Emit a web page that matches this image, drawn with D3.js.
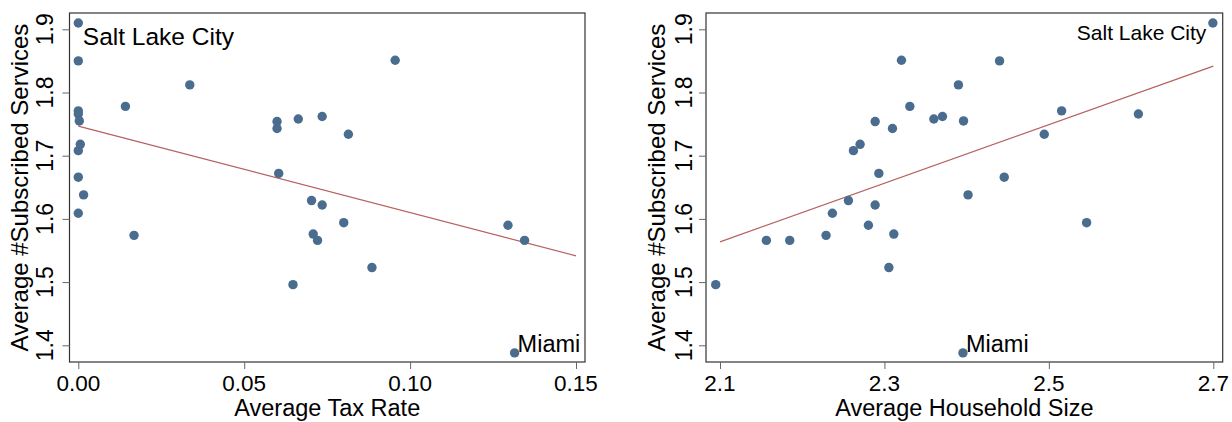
<!DOCTYPE html>
<html>
<head>
<meta charset="utf-8">
<script src="https://cdn.jsdelivr.net/npm/d3@7"></script>
<style>
  html, body { margin: 0; padding: 0; background: #fff; }
  svg { display: block; }
  text { font-family: "Liberation Sans", Arial, Helvetica, sans-serif; fill: #000; }
</style>
</head>
<body>
<svg id="chart" width="1232" height="422"></svg>
<script>
// ---- data (one entry per city) ----
const cities = ["Salt Lake City","c2","c3","c4","c5","c6","c7","c8","c9","c10",
  "c11","c12","c13","c14","c15","c16","c17","c18","c19","c20",
  "c21","c22","c23","c24","c25","c26","c27","c28","c29","Miami"];
const subscribed = [1.910, 1.850, 1.851, 1.812, 1.778, 1.771, 1.766, 1.762, 1.758, 1.755,
  1.754, 1.743, 1.734, 1.718, 1.708, 1.672, 1.666, 1.638, 1.629, 1.622,
  1.609, 1.594, 1.590, 1.576, 1.574, 1.566, 1.566, 1.523, 1.496, 1.388];
const taxRate = [0.0000, 0.0000, 0.0955, 0.0336, 0.0142, 0.0000, 0.0000, 0.0735, 0.0663, 0.0003,
  0.0599, 0.0599, 0.0814, 0.0006, 0.0000, 0.0604, 0.0000, 0.0016, 0.0703, 0.0735,
  0.0000, 0.0800, 0.1295, 0.0708, 0.0168, 0.0721, 0.1345, 0.0885, 0.0647, 0.1315];
const householdSize = [2.6995, 2.4400, 2.3207, 2.3900, 2.3309, 2.5155, 2.6089, 2.3706, 2.3601, 2.3962,
  2.2887, 2.3098, 2.4944, 2.2704, 2.2623, 2.2932, 2.4457, 2.4017, 2.2562, 2.2887,
  2.2367, 2.5459, 2.2805, 2.3114, 2.2290, 2.1564, 2.1848, 2.3054, 2.0948, 2.3955];
const labelled = ["Salt Lake City", "Miami"];

const yTicks = [1.4, 1.5, 1.6, 1.7, 1.8, 1.9];
const xTicksTax = [0, 0.05, 0.10, 0.15];
const xTicksHH = [2.1, 2.3, 2.5, 2.7];
const yTitle = "Average #Subscribed Services";
const xTitleTax = "Average Tax Rate";
const xTitleHH = "Average Household Size";

// ---- styles ----
const DOT = "#4a6d8f", FIT = "#b5615f", FRAME = "#333", TICK = "#666";

const svg = d3.select("#chart");
const y = d3.scaleLinear().domain([1.4, 1.9]).range([345.3, 29.3]);

function ols(xs, ys) {
  const mx = d3.mean(xs), my = d3.mean(ys);
  let sxy = 0, sxx = 0;
  xs.forEach((v, i) => { sxy += (v - mx) * (ys[i] - my); sxx += (v - mx) * (v - mx); });
  const b = sxy / sxx;
  return { a: my - b * mx, b };
}

function panel(cfg) {
  const g = svg.append("g");
  const x = d3.scaleLinear().domain(cfg.domain).range(cfg.range);
  const f = cfg.frame; // [x0, y0, x1, y1]

  // frame
  g.append("rect").attr("x", f[0]).attr("y", f[1])
    .attr("width", f[2] - f[0]).attr("height", f[3] - f[1])
    .attr("fill", "none").attr("stroke", FRAME).attr("stroke-width", 1.2);

  // y axis ticks + labels
  const yAxis = d3.axisLeft(y).tickValues(yTicks).tickSize(7).tickFormat(d3.format(".1f"));
  const ya = g.append("g").attr("transform", `translate(${f[0]},0)`).call(yAxis);
  ya.select(".domain").remove();
  ya.selectAll(".tick line").attr("stroke", TICK);
  ya.selectAll(".tick text").remove();
  g.selectAll(".ylab").data(yTicks).join("text")
    .attr("transform", d => `translate(${cfg.yLabX},${y(d)}) rotate(-90)`)
    .attr("text-anchor", "middle").style("font-size", "23px")
    .text(d => d3.format(".1f")(d));

  // x axis ticks + labels
  const xAxis = d3.axisBottom(x).tickValues(cfg.xTicks).tickSize(7);
  const xa = g.append("g").attr("transform", `translate(0,${f[3]})`).call(xAxis);
  xa.select(".domain").remove();
  xa.selectAll(".tick line").attr("stroke", TICK);
  xa.selectAll(".tick text").remove();
  g.selectAll(".xlab").data(cfg.xTicks).join("text")
    .attr("x", d => x(d)).attr("y", 390.5)
    .attr("text-anchor", "middle").style("font-size", "22.5px")
    .text(d => cfg.xFmt(d));

  // titles
  g.append("text")
    .attr("transform", `translate(${cfg.yTitleX},${(f[1] + f[3]) / 2}) rotate(-90)`)
    .attr("text-anchor", "middle").style("font-size", "24px").text(yTitle);
  g.append("text").attr("x", (f[0] + f[2]) / 2).attr("y", 415.5)
    .attr("text-anchor", "middle").style("font-size", "23.5px").text(cfg.xTitle);

  // fit line
  const fit = ols(cfg.xs, subscribed);
  const d0 = cfg.domain[0], d1 = cfg.domain[1];
  g.append("line")
    .attr("x1", x(d0)).attr("y1", y(fit.a + fit.b * d0))
    .attr("x2", x(d1)).attr("y2", y(fit.a + fit.b * d1))
    .attr("stroke", FIT).attr("stroke-width", 1.2);

  // points
  g.selectAll(".pt").data(cfg.xs).join("circle")
    .attr("cx", d => x(d)).attr("cy", (d, i) => y(subscribed[i]))
    .attr("r", 4.7).attr("fill", DOT);

  // labels
  cities.forEach((c, i) => {
    if (!labelled.includes(c)) return;
    const L = cfg.labels[c];
    g.append("text")
      .attr("x", x(cfg.xs[i]) + L.dx).attr("y", y(subscribed[i]) + L.dy)
      .attr("text-anchor", L.anchor).style("font-size", L.size + "px")
      .text(c);
  });
}

panel({
  domain: [0, 0.15], range: [78.3, 576], frame: [69.5, 13, 585, 362],
  xTicks: xTicksTax, xFmt: d3.format(".2f"), xs: taxRate, xTitle: xTitleTax,
  yLabX: 52.5, yTitleX: 27.5,
  labels: {
    "Salt Lake City": { dx: 4.5, dy: 22.5, anchor: "start", size: 24.5 },
    "Miami": { dx: 3, dy: -1, anchor: "start", size: 23.5 }
  }
});

panel({
  domain: [2.1, 2.7], range: [720, 1213.3], frame: [706, 13, 1222.7, 362],
  xTicks: xTicksHH, xFmt: d3.format(".1f"), xs: householdSize, xTitle: xTitleHH,
  yLabX: 691.5, yTitleX: 665,
  labels: {
    "Salt Lake City": { dx: -6.5, dy: 17, anchor: "end", size: 21 },
    "Miami": { dx: 3, dy: -1, anchor: "start", size: 23.5 }
  }
});
</script>
</body>
</html>
